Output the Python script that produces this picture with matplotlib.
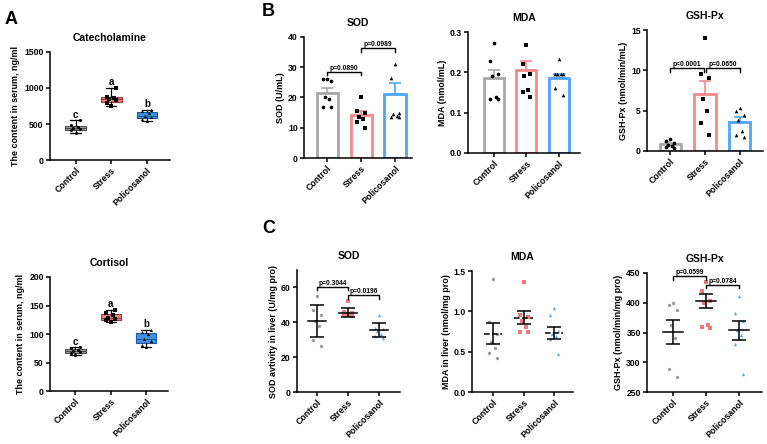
import matplotlib.pyplot as plt
import numpy as np

plt.rcParams['font.family'] = ['Liberation Sans', 'DejaVu Sans']
plt.rcParams['font.weight'] = 'bold'

groups = ['Control', 'Stress', 'Policosanol']

# Panel A: serum hormones (box plots, min-max whiskers)
cate = [[380, 410, 430, 445, 460, 480, 555],
        [745, 790, 830, 845, 860, 880, 1000],
        [545, 575, 600, 615, 650, 680, 700]]
cort = [[64, 66, 68, 70, 72, 75, 77],
        [121, 124, 126, 128, 133, 137, 142],
        [78, 80, 88, 92, 100, 103, 107]]
cate_letters = ['c', 'a', 'b']
cort_letters = ['c', 'a', 'b']

# Panel B: serum enzymes (bar = mean, error = SEM)
sod_b_pts = [[26, 26, 25.5, 20, 19.5, 17, 17],
             [20, 15.5, 15, 13.5, 13, 12, 10],
             [31, 26.5, 15, 14.5, 14, 13.5, 13.5]]
sod_b_mean = [21.5, 14.2, 21.3]
sod_b_sem = [1.5, 1.3, 3.4]
mda_b_pts = [[0.273, 0.228, 0.195, 0.19, 0.14, 0.135, 0.133],
             [0.268, 0.22, 0.195, 0.19, 0.155, 0.15, 0.138],
             [0.232, 0.196, 0.196, 0.196, 0.195, 0.16, 0.145]]
mda_b_mean = [0.185, 0.205, 0.186]
mda_b_sem = [0.022, 0.023, 0.011]
gsh_b_pts = [[1.5, 1.3, 1.0, 0.8, 0.6, 0.5, 0.4],
             [14, 9.5, 9, 6.5, 5, 3.5, 2],
             [5.3, 4.9, 4.5, 3.8, 2.5, 2.0, 1.7]]
gsh_b_mean = [0.85, 7.1, 3.65]
gsh_b_sem = [0.15, 1.6, 0.55]

# Panel C: liver enzymes (scatter, mean +/- SD)
sod_c_pts = [[55, 47, 44, 41, 38, 30, 26.5],
             [52.5, 46, 45.5, 45, 44.5, 44, 43.5],
             [44, 37, 36, 35, 33, 32, 31]]
sod_c_mean = [40.7, 45.5, 35.5]
sod_c_sd = [9.2, 2.7, 4.0]
mda_c_pts = [[1.4, 0.87, 0.72, 0.62, 0.55, 0.48, 0.42],
             [1.36, 0.95, 0.93, 0.88, 0.8, 0.75, 0.74],
             [1.04, 0.95, 0.76, 0.72, 0.7, 0.66, 0.47]]
mda_c_mean = [0.72, 0.92, 0.73]
mda_c_sd = [0.13, 0.08, 0.075]
gsh_c_pts = [[400, 397, 388, 362, 340, 288, 275],
             [435, 420, 403, 400, 362, 360, 358],
             [411, 383, 370, 355, 345, 330, 281]]
gsh_c_mean = [351, 403, 354]
gsh_c_sd = [19.5, 12, 16]

box_face = ['#a3a3a3', '#f27f7f', '#3f90e6']
box_edge = ['#4d4d4d', '#9a3a3a', '#1d5a9c']
bar_edge = ['#a8a8a8', '#f48a8a', '#4ea5f5']
dot_col = ['#9c9c9c', '#f27878', '#5aaaf0']
markers = ['o', 's', '^']

W, H = 767, 444
fig = plt.figure(figsize=(W / 100, H / 100), dpi=100)


def make_ax(x0, y0, x1, y1):
    ax = fig.add_axes([x0 / W, 1 - y1 / H, (x1 - x0) / W, (y1 - y0) / H])
    for s in ['top', 'right']:
        ax.spines[s].set_visible(False)
    for s in ['left', 'bottom']:
        ax.spines[s].set_linewidth(1.1)
    ax.tick_params(length=3, width=1.1, labelsize=6.2, pad=1.5)
    return ax


def finish(ax, xlim):
    ax.set_xlim(*xlim)
    ax.set_xticks(range(3))
    ax.set_xticklabels(groups, rotation=45, ha='right', rotation_mode='anchor',
                       fontsize=6.3, fontweight='bold')
    for t in ax.get_yticklabels():
        t.set_fontweight('bold')


def spread(vals, width=0.14):
    # beeswarm-like alternating offsets for points sorted high to low
    pattern = np.array([0, -1, 1, -0.5, 0.5, -1, 1, 0])
    return width * pattern[:len(vals)]


def bracket(ax, x0, x1, y, txt, h):
    ax.plot([x0, x0, x1, x1], [y - h, y, y, y - h], color='black', lw=1.0)
    ax.text((x0 + x1) / 2, y, txt, ha='center', va='bottom', fontsize=4.8,
            fontweight='bold')


def box_panel(ax, data, letters, ylim, yticks, title):
    bp = ax.boxplot(data, positions=range(3), widths=0.58, whis=(0, 100),
                    patch_artist=True, showfliers=False)
    for i in range(3):
        bp['boxes'][i].set_facecolor(box_face[i])
        bp['boxes'][i].set_edgecolor(box_edge[i])
        bp['boxes'][i].set_linewidth(0.8)
        bp['medians'][i].set_color(box_edge[i])
        bp['medians'][i].set_linewidth(0.8)
        for w in bp['whiskers'][2 * i:2 * i + 2] + bp['caps'][2 * i:2 * i + 2]:
            w.set_color('black')
            w.set_linewidth(0.9)
        ax.scatter(i + spread(data[i], 0.13), data[i], s=5, color='black',
                   marker=markers[i], zorder=3, linewidths=0)
        ax.text(i, max(data[i]) + (ylim[1] - ylim[0]) * 0.005, letters[i],
                ha='center', va='bottom', fontsize=7, fontweight='bold')
    ax.set_ylim(*ylim)
    ax.set_yticks(yticks)
    ax.set_title(title, fontsize=7.5, fontweight='bold', pad=8)
    ax.set_ylabel('The content in serum, ng/ml', fontsize=6.4, fontweight='bold',
                  labelpad=3)


def bar_panel(ax, pts, mean, sem, ylim, yticks, title, ylabel):
    for i in range(3):
        ax.bar(i, mean[i], width=0.62, facecolor='white', edgecolor=bar_edge[i],
               linewidth=2.0, zorder=1)
        ax.errorbar(i, mean[i], yerr=[[0], [sem[i]]], color=bar_edge[i],
                    capsize=4, capthick=1.2, lw=1.2, zorder=2)
        ax.scatter(i + spread(pts[i], 0.12), pts[i], s=7, color='black',
                   marker=markers[i], zorder=3, linewidths=0)
    ax.set_ylim(*ylim)
    ax.set_yticks(yticks)
    ax.set_title(title, fontsize=7.5, fontweight='bold', pad=8)
    ax.set_ylabel(ylabel, fontsize=6.5, fontweight='bold', labelpad=2)


def dot_panel(ax, pts, mean, sd, ylim, yticks, title, ylabel, dashed=False):
    for i in range(3):
        ax.scatter(i + spread(pts[i], 0.13), pts[i], s=6, color=dot_col[i],
                   marker=markers[i], zorder=2, linewidths=0)
        ax.plot([i - 0.3, i + 0.3], [mean[i], mean[i]], color='black', lw=1.1,
                ls='--' if dashed else '-', zorder=3)
        ax.errorbar(i, mean[i], yerr=sd[i], color='black', capsize=5,
                    capthick=1.1, lw=1.1, zorder=3)
    ax.set_ylim(*ylim)
    ax.set_yticks(yticks)
    ax.set_title(title, fontsize=7.5, fontweight='bold', pad=8)
    ax.set_ylabel(ylabel, fontsize=6.5, fontweight='bold', labelpad=2)


# Panel A
ax = make_ax(50, 52, 170, 160)
box_panel(ax, cate, cate_letters, (0, 1500), [0, 500, 1000, 1500], 'Catecholamine')
finish(ax, (-0.72, 2.65))
ax = make_ax(50, 277, 168, 391)
box_panel(ax, cort, cort_letters, (0, 200), [0, 50, 100, 150, 200], 'Cortisol')
finish(ax, (-0.72, 2.62))

# Panel B
ax = make_ax(304, 37, 412, 158)
bar_panel(ax, sod_b_pts, sod_b_mean, sod_b_sem, (0, 40), [0, 10, 20, 30, 40],
          'SOD', 'SOD (U/mL)')
finish(ax, (-0.68, 2.5))
bracket(ax, 0, 1, 28.5, 'p=0.0890', 1.0)
bracket(ax, 1, 2, 36.2, 'p=0.0989', 1.0)

ax = make_ax(468, 32, 580, 153)
bar_panel(ax, mda_b_pts, mda_b_mean, mda_b_sem, (0, 0.3), [0.0, 0.1, 0.2, 0.3],
          'MDA', 'MDA (nmol/mL)')
ax.set_yticklabels(['0.0', '0.1', '0.2', '0.3'])
finish(ax, (-0.8, 2.65))

ax = make_ax(647, 30, 763, 151)
bar_panel(ax, gsh_b_pts, gsh_b_mean, gsh_b_sem, (0, 15), [0, 5, 10, 15],
          'GSH-Px', 'GSH-Px (nmol/min/mL)')
finish(ax, (-0.67, 2.67))
bracket(ax, 0, 0.97, 10.3, 'p<0.0001', 0.5)
bracket(ax, 1.03, 2, 10.3, 'p=0.0650', 0.5)

# Panel C
ax = make_ax(297, 270, 400, 392)
dot_panel(ax, sod_c_pts, sod_c_mean, sod_c_sd, (0, 70), [0, 20, 40, 60],
          'SOD', 'SOD avtivity in liver (U/mg pro)')
finish(ax, (-0.65, 2.68))
bracket(ax, 0, 1, 60.5, 'p=0.3044', 2.0)
bracket(ax, 1, 2, 55.5, 'p=0.0196', 2.0)

ax = make_ax(472, 271, 573, 392)
dot_panel(ax, mda_c_pts, mda_c_mean, mda_c_sd, (0, 1.5), [0.0, 0.5, 1.0, 1.5],
          'MDA', 'MDA in liver (nmol/mg pro)', dashed=True)
ax.set_yticklabels(['0.0', '0.5', '1.0', '1.5'])
finish(ax, (-0.69, 2.62))

ax = make_ax(647, 273, 762, 392)
dot_panel(ax, gsh_c_pts, gsh_c_mean, gsh_c_sd, (250, 450),
          [250, 300, 350, 400, 450], 'GSH-Px', 'GSH-Px (nmol/min/mg pro)')
finish(ax, (-0.79, 2.7))
bracket(ax, 0, 1, 445, 'p=0.0599', 6)
bracket(ax, 1, 2, 430, 'p=0.0784', 6)

# panel letters
fig.text(5 / W, 1 - 20 / H, 'A', fontsize=13, fontweight='bold', va='center')
fig.text(262 / W, 1 - 12 / H, 'B', fontsize=13, fontweight='bold', va='center')
fig.text(262 / W, 1 - 228 / H, 'C', fontsize=13, fontweight='bold', va='center')

fig.savefig('out.png', dpi=100)
